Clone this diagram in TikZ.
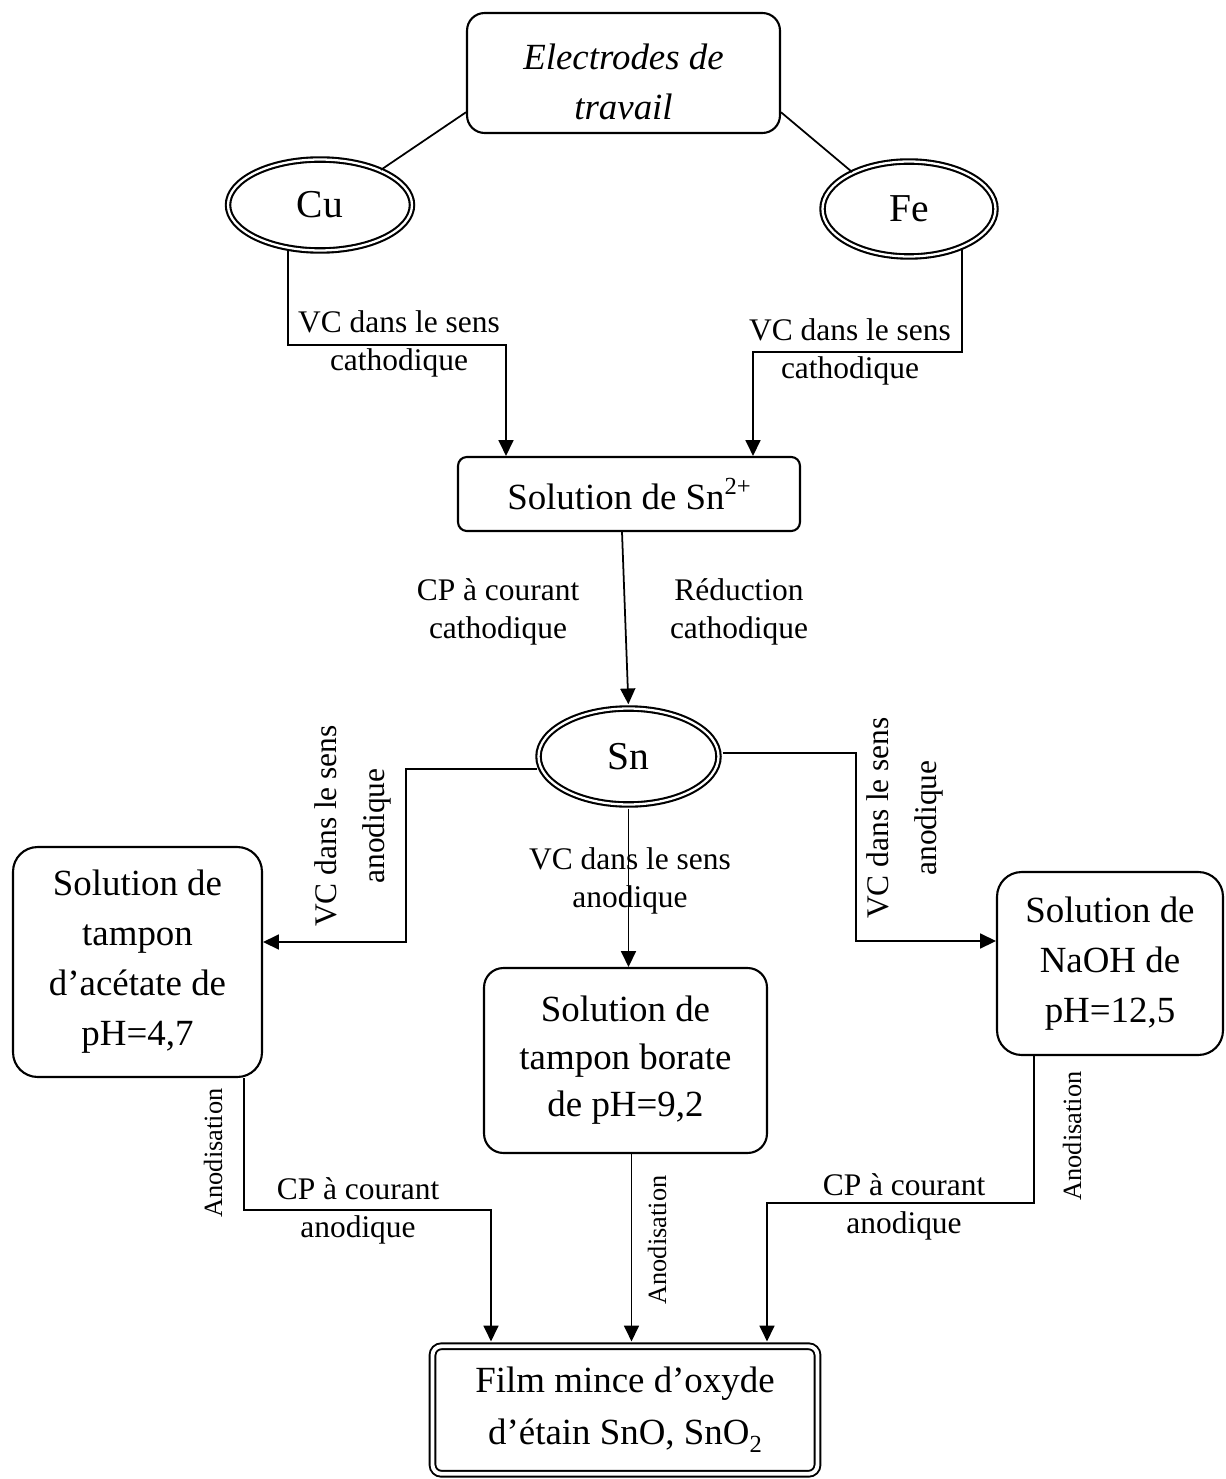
\documentclass[tikz,border=0pt]{standalone}
\usepackage{fontspec}
\setmainfont{Liberation Serif}
\usetikzlibrary{arrows.meta,shapes.geometric,calc}
\newcommand\BigTxt{\fontsize{21}{28.5}\selectfont}
\newcommand\EllTxt{\fontsize{22.5}{27}\selectfont}
\newcommand\SmTxt{\fontsize{17.9}{21.5}\selectfont}
\newcommand\RotTxt{\fontsize{17.9}{27}\selectfont}
\newcommand\TinyTxt{\fontsize{15}{18}\selectfont}
\newcommand\SupTxt[1]{\raisebox{0.42em}{\fontsize{14}{14}\selectfont #1}}
\newcommand\SubTxt[1]{\raisebox{-0.22em}{\fontsize{14}{14}\selectfont #1}}
\begin{document}
\begin{tikzpicture}[x=0.02cm,y=-0.02cm,
  box/.style={draw,line width=1.2pt,rounded corners=#1,align=center,inner sep=0pt,font=\BigTxt},
  box/.default=10pt,
  ell/.style={draw,ellipse,double,line width=1.2pt,double distance=1.3pt,inner sep=0pt,font=\EllTxt},
  con/.style={line width=1pt},
  arr/.style={line width=1pt,-{Triangle[length=9pt,width=8.5pt]}},
  lab/.style={align=center,inner sep=0pt,font=\SmTxt},
  rlab/.style={align=center,inner sep=0pt,font=\RotTxt,rotate=90},
  anod/.style={inner sep=0pt,font=\TinyTxt,rotate=90}]
\useasboundingbox (0,0) rectangle (1225,1479);
\fill[white] (0,0) rectangle (1225,1479);

% nodes
\node[box=10pt, minimum width=6.26cm, minimum height=2.4cm] (top) at (623.5,73) {};
\node[align=center, inner sep=0pt, font=\BigTxt\itshape] (toptxt) at (623.5,82) {Electrodes de\\travail};
\node[ell, minimum width=3.68cm, minimum height=1.82cm] (cu) at (320,205) {Cu};
\node[ell, minimum width=3.46cm, minimum height=1.9cm] (fe) at (909,209) {Fe};
\node[box=5pt, minimum width=6.84cm, minimum height=1.48cm] (sn2) at (629,494) {Solution de Sn\SupTxt{2+}};
\node[ell, minimum width=3.6cm, minimum height=1.92cm] (sn) at (628.5,756.5) {Sn};
\node[box=14pt, minimum width=4.98cm, minimum height=4.6cm] (lb) at (137.5,962) {Solution de\\tampon\\d’acétate de\\pH=4,7};
\node[box=11pt, minimum width=5.66cm, minimum height=3.7cm, font=\fontsize{21}{27}\selectfont] (mb) at (625.5,1060.5) {Solution de\\tampon borate\\de pH=9,2};
\node[box=14pt, minimum width=4.52cm, minimum height=3.66cm] (rb) at (1110,963.5) {Solution de\\NaOH de\\pH=12,5};
\node[box=5pt, double, line width=1.1pt, double distance=2.2pt, minimum width=7.7cm, minimum height=2.55cm, font=\fontsize{21}{29.5}\selectfont] (bot) at (625,1410) {Film mince d’oxyde\\d’étain SnO, SnO\SubTxt{2}};

% connectors
\draw[con] (top.194.7) -- (cu.30);
\draw[con] (top.-14.7) -- (fe.147);

\coordinate (cuA) at (506,345);
\draw[arr] (cu.-126) |- (cuA) -- (cuA |- sn2.north);
\coordinate (feA) at (753,352);
\draw[arr] (fe.-36) |- (feA) -- (feA |- sn2.north);

\draw[arr, shorten >=1.8pt] ($(sn2.south)+(-7,0)$) -- (sn.north);

\coordinate (lbend) at (406,942);
\draw[arr, shorten <=1.8pt] (sn.188) -| (lbend) -- (lb.east |- lbend);
\coordinate (rbend) at (856,941);
\draw[arr, shorten <=1.8pt] (sn.2) -| (rbend) -- (rb.west |- rbend);
\draw[arr, shorten <=1.8pt] (sn.south) -- (sn.south |- mb.north);

\coordinate (lbB) at (491,1210);
\draw[arr, shorten >=2.2pt] ($(lb.south)+(106.5,0)$) |- (lbB) -- (lbB |- bot.north);
\coordinate (mbB) at ($(mb.south)+(6,0)$);
\draw[arr, shorten >=2.2pt] (mbB) -- (mbB |- bot.north);
\coordinate (rbB) at (767,1203);
\draw[arr, shorten >=2.2pt] ($(rb.south)+(-76,0)$) |- (rbB) -- (rbB |- bot.north);

% labels
\node[lab] (l1) at (399,344) {VC dans le sens\\cathodique};
\node[lab] (l2) at (850,352) {VC dans le sens\\cathodique};
\node[lab] (l3) at (498,612) {CP à courant\\cathodique};
\node[lab] (l4) at (739,612) {Réduction\\cathodique};
\node[rlab] (l5) at (353,826) {VC dans le sens\\anodique};
\node[rlab] (l6) at (905,818) {VC dans le sens\\anodique};
\node[lab] (l7) at (630,881) {VC dans le sens\\anodique};
\node[anod] (l8) at (213,1153) {Anodisation};
\node[anod] (l9) at (657,1240) {Anodisation};
\node[anod] (l10) at (1072,1136) {Anodisation};
\node[lab] (l11) at (358,1211) {CP à courant\\anodique};
\node[lab] (l12) at (904,1207) {CP à courant\\anodique};
\end{tikzpicture}
\end{document}
